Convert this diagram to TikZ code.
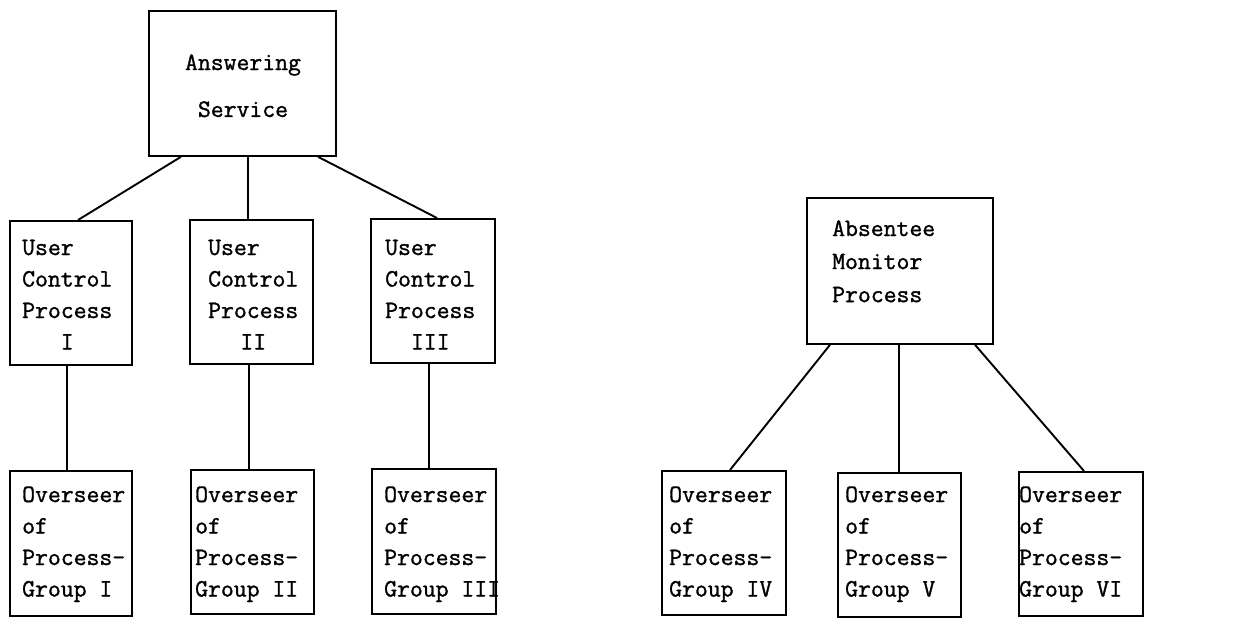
\documentclass[tikz,border=0pt]{standalone}
\usepackage{fontspec}
\newfontfamily\typewr[FakeBold=1.2]{Latin Modern Mono}
\usetikzlibrary{calc}
\begin{document}
\begin{tikzpicture}[x=1pt,y=-1pt,
  box/.style={draw, line width=1.8pt, inner sep=0pt, anchor=north west},
  txt/.style={inner sep=0pt, anchor=base west, font=\typewr\fontsize{25}{31.5}\selectfont},
  link/.style={line width=1.9pt}]
\useasboundingbox (0,0) rectangle (1239,619);
% boxes
\node[box, minimum width=187, minimum height=145] (as) at (148,10) {};
\node[box, minimum width=122, minimum height=144] (ucp1) at (9,220) {};
\node[box, minimum width=123, minimum height=144] (ucp2) at (189,219) {};
\node[box, minimum width=124, minimum height=144] (ucp3) at (370,218) {};
\node[box, minimum width=122, minimum height=145] (opg1) at (9,470) {};
\node[box, minimum width=123, minimum height=144] (opg2) at (190,469) {};
\node[box, minimum width=124, minimum height=145] (opg3) at (371,468) {};
\node[box, minimum width=186, minimum height=146] (amp) at (806,197) {};
\node[box, minimum width=124, minimum height=144] (opg4) at (661,470) {};
\node[box, minimum width=123, minimum height=144] (opg5) at (837,472) {};
\node[box, minimum width=124, minimum height=144] (opg6) at (1018,471) {};
% texts
\node[txt, anchor=base] (ast) at (243,70) {\renewcommand\arraystretch{1.49}\begin{tabular}[t]{@{}c@{}}Answering\\Service\end{tabular}};
\node[txt] (ucp1t) at (22,255) {\begin{tabular}[t]{@{}l@{}}User\\Control\\Process\\\multicolumn{1}{@{}c@{}}{I}\end{tabular}};
\node[txt] (ucp2t) at (208,255) {\begin{tabular}[t]{@{}l@{}}User\\Control\\Process\\\multicolumn{1}{@{}c@{}}{II}\end{tabular}};
\node[txt] (ucp3t) at (385,255) {\begin{tabular}[t]{@{}l@{}}User\\Control\\Process\\\multicolumn{1}{@{}c@{}}{III}\end{tabular}};
\node[txt] (ampt) at (832,236) {\renewcommand\arraystretch{1.05}\begin{tabular}[t]{@{}l@{}}Absentee\\Monitor\\Process\end{tabular}};
\node[txt] (opg1t) at (22,502) {\begin{tabular}[t]{@{}l@{}}Overseer\\of\\Process-\\Group I\end{tabular}};
\node[txt] (opg2t) at (195,502) {\begin{tabular}[t]{@{}l@{}}Overseer\\of\\Process-\\Group II\end{tabular}};
\node[txt] (opg3t) at (384,502) {\begin{tabular}[t]{@{}l@{}}Overseer\\of\\Process-\\Group III\end{tabular}};
\node[txt] (opg4t) at (669,502) {\begin{tabular}[t]{@{}l@{}}Overseer\\of\\Process-\\Group IV\end{tabular}};
\node[txt] (opg5t) at (845,502) {\begin{tabular}[t]{@{}l@{}}Overseer\\of\\Process-\\Group V\end{tabular}};
\node[txt] (opg6t) at (1019,502) {\begin{tabular}[t]{@{}l@{}}Overseer\\of\\Process-\\Group VI\end{tabular}};
% connectors
\draw[link] ($(as.south west)+(33,0)$) -- ($(ucp1.north west)+(69,0)$);
\draw[link] ($(as.south west)+(100,0)$) -- ($(ucp2.north west)+(59,0)$);
\draw[link] ($(as.south west)+(170,0)$) -- ($(ucp3.north west)+(67,0)$);
\draw[link] ($(ucp1.south west)+(58,0)$) -- ($(opg1.north west)+(58,0)$);
\draw[link] ($(ucp2.south west)+(60,0)$) -- ($(opg2.north west)+(59,0)$);
\draw[link] ($(ucp3.south west)+(59,0)$) -- ($(opg3.north west)+(58,0)$);
\draw[link] ($(amp.south west)+(24,0)$) -- ($(opg4.north west)+(69,0)$);
\draw[link] ($(amp.south west)+(93,0)$) -- ($(opg5.north west)+(62,0)$);
\draw[link] ($(amp.south west)+(169,0)$) -- ($(opg6.north west)+(66,0)$);
\end{tikzpicture}
\end{document}
